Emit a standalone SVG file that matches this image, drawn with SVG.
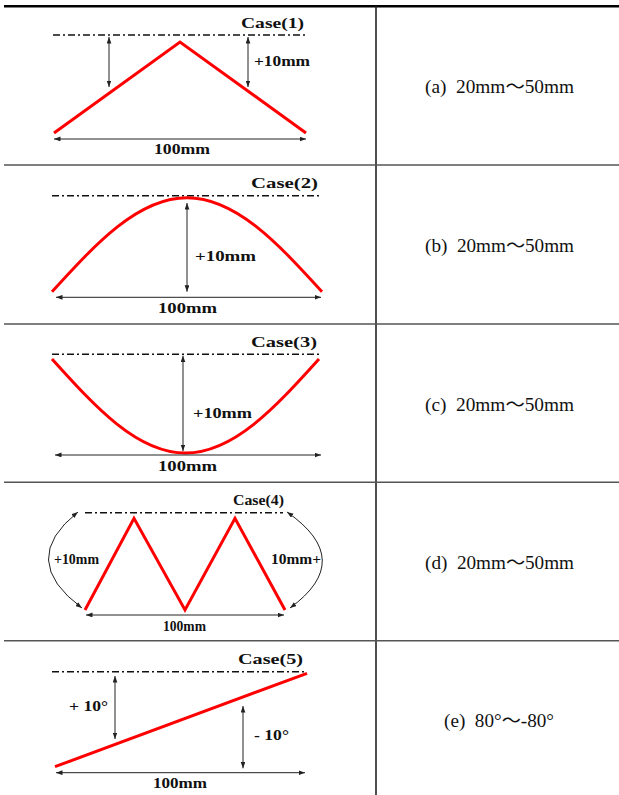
<svg xmlns="http://www.w3.org/2000/svg" width="619" height="795" viewBox="0 0 619 795">
<style>
.lbl{font-family:"Liberation Serif","Times New Roman",serif;font-weight:bold;font-size:14px;fill:#111}
.val{font-family:"Liberation Serif","Noto Sans CJK JP",serif;font-size:18px;fill:#111;white-space:pre}
.red{fill:none;stroke:#f00;stroke-width:3;stroke-linejoin:miter}
.dd{fill:none;stroke:#111;stroke-width:1.5;stroke-dasharray:7 3 2 3}
.arr{fill:none;stroke:#222;stroke-width:1;marker-start:url(#ah);marker-end:url(#ah)}
.grid{stroke:#555;stroke-width:1.5}
</style>
<defs>
<marker id="ah" markerUnits="userSpaceOnUse" markerWidth="7" markerHeight="5" refX="6.5" refY="2.4" orient="auto-start-reverse">
<path d="M0,0 L6.5,2.4 L0,4.8 z" fill="#222"/>
</marker>
</defs>
<rect width="619" height="795" fill="#fff"/>
<g id="table">
<line x1="4" y1="6.2" x2="619" y2="6.2" stroke="#000" stroke-width="2.6"/>
<line x1="376" y1="6" x2="376" y2="795" stroke="#222" stroke-width="1.6"/>
<line class="grid" x1="4" y1="165" x2="619" y2="165"/>
<line class="grid" x1="4" y1="324" x2="619" y2="324"/>
<line class="grid" x1="4" y1="482.3" x2="619" y2="482.3"/>
<line class="grid" x1="4" y1="640.7" x2="619" y2="640.7"/>
</g>
<g id="case1">
<line class="dd" x1="53" y1="35" x2="305" y2="35"/>
<polyline class="red" points="54,133 180,42 306,133"/>
<text class="lbl" x="241" y="28" textLength="63" lengthAdjust="spacingAndGlyphs">Case(1)</text>
<text class="lbl" x="254" y="66" textLength="56" lengthAdjust="spacingAndGlyphs">+10mm</text>
<text class="lbl" x="154" y="154" textLength="56" lengthAdjust="spacingAndGlyphs">100mm</text>
<text class="val" x="425" y="93" textLength="149" lengthAdjust="spacingAndGlyphs">(a)  20mm～50mm</text>
</g>
<g id="case2">
<line class="dd" x1="52" y1="195.7" x2="320" y2="195.7"/>
<path class="red" d="M52,291.7 C96,243.5 138.1,197.7 187,197.7 C235.9,197.7 278,243.5 322,291.7"/>
<text class="lbl" x="251" y="187.7" textLength="67" lengthAdjust="spacingAndGlyphs">Case(2)</text>
<text class="lbl" x="195" y="260.7" textLength="61" lengthAdjust="spacingAndGlyphs">+10mm</text>
<text class="lbl" x="158" y="312.7" textLength="59" lengthAdjust="spacingAndGlyphs">100mm</text>
<text class="val" x="425" y="252" textLength="149" lengthAdjust="spacingAndGlyphs">(b)  20mm～50mm</text>
</g>
<g id="case3">
<line class="dd" x1="52" y1="354.3" x2="319" y2="354.3"/>
<path class="red" d="M52,359 C95.5,407.2 137.2,453 185.5,453 C233.8,453 275.5,407.2 319,359"/>
<text class="lbl" x="251" y="346.7" textLength="66" lengthAdjust="spacingAndGlyphs">Case(3)</text>
<text class="lbl" x="193" y="418.3" textLength="59" lengthAdjust="spacingAndGlyphs">+10mm</text>
<text class="lbl" x="158" y="471" textLength="59" lengthAdjust="spacingAndGlyphs">100mm</text>
<text class="val" x="425" y="411" textLength="149" lengthAdjust="spacingAndGlyphs">(c)  20mm～50mm</text>
</g>
<g id="case4">
<line class="dd" x1="85" y1="512.7" x2="283" y2="512.7"/>
<polyline class="red" points="85,610 134,518.3 185,610 235,518.3 285,610"/>
<text class="lbl" x="233" y="505" textLength="51" lengthAdjust="spacingAndGlyphs">Case(4)</text>
<text class="lbl" x="54" y="564" textLength="45" lengthAdjust="spacingAndGlyphs">+10mm</text>
<text class="lbl" x="271" y="564" textLength="50" lengthAdjust="spacingAndGlyphs">10mm+</text>
<text class="lbl" x="163" y="630.7" textLength="43" lengthAdjust="spacingAndGlyphs">100mm</text>
<text class="val" x="425" y="569" textLength="149" lengthAdjust="spacingAndGlyphs">(d)  20mm～50mm</text>
</g>
<g id="case5">
<line class="dd" x1="52" y1="671.7" x2="305" y2="671.7"/>
<line class="red" x1="55" y1="766.7" x2="307" y2="673.3"/>
<text class="lbl" x="238" y="664" textLength="65" lengthAdjust="spacingAndGlyphs">Case(5)</text>
<text class="lbl" x="69" y="710.7" textLength="39" lengthAdjust="spacingAndGlyphs">+ 10°</text>
<text class="lbl" x="254" y="740" textLength="35" lengthAdjust="spacingAndGlyphs">- 10°</text>
<text class="lbl" x="153" y="788.3" textLength="54" lengthAdjust="spacingAndGlyphs">100mm</text>
<text class="val" x="444" y="726.7" textLength="110" lengthAdjust="spacingAndGlyphs">(e)  80°～-80°</text>
</g>
<g id="connectors">
<line class="arr" x1="109" y1="37" x2="109" y2="87"/>
<line class="arr" x1="248" y1="37" x2="248" y2="87"/>
<line class="arr" x1="54" y1="139" x2="306" y2="139"/>
<line class="arr" x1="187" y1="203" x2="187" y2="291.7"/>
<line class="arr" x1="56" y1="297.3" x2="321" y2="297.3"/>
<line class="arr" x1="183" y1="355.7" x2="183" y2="451"/>
<line class="arr" x1="55" y1="455" x2="321" y2="455"/>
<path class="arr" d="M78,512 Q17,560 82,608"/>
<path class="arr" d="M287,512 Q356,560 290,608"/>
<line class="arr" x1="86" y1="615" x2="284" y2="615"/>
<line class="arr" x1="115" y1="676" x2="115" y2="739"/>
<line class="arr" x1="243" y1="706" x2="243" y2="768.3"/>
<line class="arr" x1="56" y1="772.7" x2="305" y2="772.7"/>
</g>
</svg>
